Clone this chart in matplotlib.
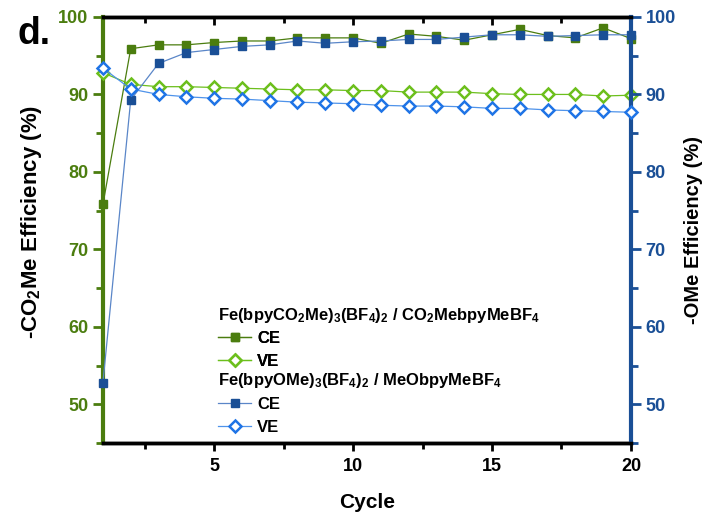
import matplotlib
matplotlib.use('Agg')
import matplotlib.pyplot as plt
from matplotlib.lines import Line2D
from matplotlib.ticker import MultipleLocator

plt.rcParams['font.family'] = ['Liberation Sans', 'DejaVu Sans']
plt.rcParams['font.weight'] = 'bold'
plt.rcParams['mathtext.fontset'] = 'custom'
plt.rcParams['mathtext.default'] = 'bf'
plt.rcParams['mathtext.bf'] = 'Liberation Sans:bold'
plt.rcParams['mathtext.rm'] = 'Liberation Sans:bold'

cycles = list(range(1, 21))
# Fe(bpyCO2Me)3(BF4)2 / CO2MebpyMeBF4
co2me_ce = [75.8, 95.9, 96.4, 96.4, 96.7, 96.9, 96.9, 97.3, 97.3, 97.3,
            96.6, 97.8, 97.5, 97.0, 97.7, 98.4, 97.6, 97.3, 98.6, 97.2]
co2me_ve = [92.8, 91.3, 91.0, 91.0, 90.9, 90.8, 90.7, 90.6, 90.6, 90.5,
            90.5, 90.3, 90.3, 90.3, 90.1, 90.0, 90.0, 90.0, 89.8, 89.9]
# Fe(bpyOMe)3(BF4)2 / MeObpyMeBF4
ome_ce = [52.8, 89.3, 94.0, 95.4, 95.8, 96.2, 96.4, 96.9, 96.6, 96.8,
          96.9, 97.1, 97.1, 97.4, 97.7, 97.7, 97.5, 97.6, 97.7, 97.7]
ome_ve = [93.4, 90.7, 90.0, 89.7, 89.5, 89.4, 89.2, 89.0, 88.9, 88.8,
          88.6, 88.5, 88.5, 88.4, 88.2, 88.2, 88.0, 87.9, 87.8, 87.7]

dark_green = '#4b7d0f'
light_green = '#6cbf1c'
dark_blue = '#1a4f96'
light_blue = '#1f74e6'

ce_style = dict(lw=0.9, marker='s', ms=6)
ve_style = dict(lw=0.9, marker='D', ms=6, mfc='white', mew=1.8)

fig = plt.figure(figsize=(7.05, 5.14), dpi=100)
ax = fig.add_axes([0.146, 0.138, 0.749, 0.829])
ax2 = ax.twinx()

ax.plot(cycles, co2me_ce, color=dark_green, mfc=dark_green, mec=dark_green,
        clip_on=False, zorder=3, **ce_style)
ax.plot(cycles, co2me_ve, color=light_green, mec=light_green,
        clip_on=False, zorder=3, **ve_style)
ax2.plot(cycles, ome_ce, color='#5a86c8', mfc=dark_blue, mec=dark_blue,
         clip_on=False, zorder=3, **ce_style)
ax2.plot(cycles, ome_ve, color='#4f93ea', mec=light_blue,
         clip_on=False, zorder=3, **ve_style)

for a in (ax, ax2):
    a.set_xlim(1, 20)
    a.set_ylim(45, 100)
    a.yaxis.set_major_locator(MultipleLocator(10))
    a.yaxis.set_minor_locator(MultipleLocator(5))
    a.xaxis.set_major_locator(MultipleLocator(5))
    a.xaxis.set_minor_locator(MultipleLocator(2.5))

# spines
ax.spines['left'].set_color(dark_green)
ax.spines['left'].set_linewidth(3)
ax2.spines['right'].set_color(dark_blue)
ax2.spines['right'].set_linewidth(3)
ax2.spines['left'].set_visible(False)
for s in ('top', 'bottom'):
    ax.spines[s].set_linewidth(2.5)
    ax2.spines[s].set_linewidth(2.5)

# bottom ticks outward, top ticks inward (drawn through the twin's x axis)
ax.tick_params(axis='x', which='both', direction='out', width=2,
               labelsize=13, colors='black', pad=5)
ax.tick_params(axis='x', which='major', length=6)
ax.tick_params(axis='x', which='minor', length=4)
ax2.xaxis.set_visible(True)
ax2.tick_params(axis='x', which='both', top=True, bottom=False, labeltop=False,
                labelbottom=False, direction='in', width=2)
ax2.tick_params(axis='x', which='major', length=6)
ax2.tick_params(axis='x', which='minor', length=4)

ax.tick_params(axis='y', which='both', color=dark_green, labelcolor=dark_green,
               width=2, labelsize=13, direction='out')
ax.tick_params(axis='y', which='major', length=7)
ax.tick_params(axis='y', which='minor', length=5)
ax2.tick_params(axis='y', which='both', color=dark_blue, labelcolor=dark_blue,
                width=2, labelsize=13, direction='out')
ax2.tick_params(axis='y', which='major', length=7)
ax2.tick_params(axis='y', which='minor', length=5)

ax.set_xlabel('Cycle', fontsize=15, fontweight='bold', labelpad=13)
ax.set_ylabel('-CO$_2$Me Efficiency (%)', fontsize=16, fontweight='bold')
ax.yaxis.set_label_coords(-0.112, 0.52)
ax2.set_ylabel('-OMe Efficiency (%)', fontsize=14.5, fontweight='bold')
ax2.yaxis.set_label_coords(1.10, 0.50)

fig.text(0.025, 0.915, 'd.', fontsize=27, fontweight='bold')

# legend: two groups, each with a heading line
ax.text(0.218, 0.300, 'Fe(bpyCO$_2$Me)$_3$(BF$_4$)$_2$ / CO$_2$MebpyMeBF$_4$',
        transform=ax.transAxes, fontsize=12, fontweight='bold', va='center')
ax.text(0.218, 0.148, 'Fe(bpyOMe)$_3$(BF$_4$)$_2$ / MeObpyMeBF$_4$',
        transform=ax.transAxes, fontsize=12, fontweight='bold', va='center')

h_co2me = [Line2D([], [], color=dark_green, mfc=dark_green, mec=dark_green, **ce_style),
           Line2D([], [], color=light_green, mec=light_green, **ve_style)]
h_ome = [Line2D([], [], color='#5a86c8', mfc=dark_blue, mec=dark_blue, **ce_style),
         Line2D([], [], color='#4f93ea', mec=light_blue, **ve_style)]
leg_kw = dict(loc='upper left', frameon=False, fontsize=12, handlelength=2.0,
              handletextpad=0.35, labelspacing=0.45, borderpad=0, borderaxespad=0)
leg1 = ax.legend(h_co2me, ['CE', 'VE'], bbox_to_anchor=(0.218, 0.263), **leg_kw)
ax.add_artist(leg1)
ax2.legend(h_ome, ['CE', 'VE'], bbox_to_anchor=(0.218, 0.108), **leg_kw)

plt.savefig('out.png', dpi=100)
